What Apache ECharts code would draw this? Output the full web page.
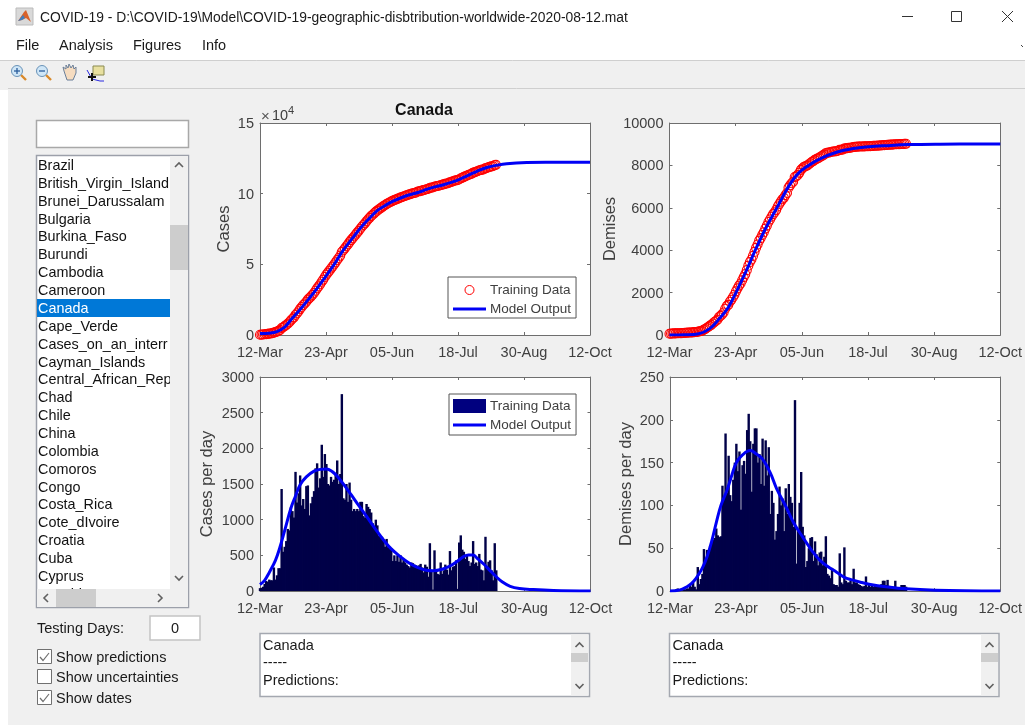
<!DOCTYPE html>
<html><head><meta charset="utf-8">
<style>html,body{margin:0;padding:0;background:#fff;overflow:hidden}#c{width:1025px;height:725px}</style>
<script src="https://cdn.jsdelivr.net/npm/echarts@6/dist/echarts.min.js"></script>
</head><body><div id="c"></div>
<script>
const tickDays=[0,42.8,85.6,128.4,171.2,214];
const tickLabels=['12-Mar','23-Apr','05-Jun','18-Jul','30-Aug','12-Oct'];
const countries=['Brazil','British_Virgin_Island','Brunei_Darussalam','Bulgaria','Burkina_Faso','Burundi','Cambodia','Cameroon','Canada','Cape_Verde','Cases_on_an_interr','Cayman_Islands','Central_African_Rep','Chad','Chile','China','Colombia','Comoros','Congo','Costa_Rica','Cote_dIvoire','Croatia','Cuba','Cyprus','Czechia'];
const cumCases=[
200,300,400,500,650,800,950,1100,1300,1700,
2000,2400,2900,3500,4900,5500,6300,7100,8000,9000,
10300,11500,12500,14200,15400,16800,18500,19800,21200,22300,
23500,25000,26100,27200,28400,29700,31300,33000,34400,35900,
37700,39200,41000,42700,44100,45500,47000,48400,49900,51400,
53100,54500,56100,58700,60000,61300,62800,64100,65700,67100,
68400,69700,71000,72400,73700,75200,76600,77800,79000,80400,
81700,82900,84100,85100,86100,87100,88000,88800,89600,90300,
91200,91800,92600,93200,93800,94400,94900,95400,95800,96300,
96700,97200,97600,98000,98400,98800,99200,99500,99900,100300,
100500,100700,101400,101700,101800,102200,102500,102800,103100,103400,
104000,104300,104350,104900,105200,105400,105600,106000,106300,106600,
106900,107200,107400,108000,108300,108700,109100,109500,109550,110000,
110700,111200,111700,112200,112700,113200,113600,114000,114700,115100,
115500,115850,116400,116700,117000,117150,117900,118200,118600,119000,
119300,119450,120100,120400];
const cumDeaths=[
60,65,70,75,75,80,85,85,90,95,
100,105,110,115,120,125,135,140,140,170,
180,195,245,280,330,375,430,480,545,610,
660,720,840,900,970,1060,1240,1360,1420,1570,
1660,1780,1900,2060,2200,2330,2430,2580,2730,2870,
3060,3270,3440,3560,3730,3920,4110,4270,4450,4570,
4720,4850,5020,5160,5330,5450,5580,5700,5790,5900,
6060,6180,6290,6400,6470,6600,6700,6950,7060,7160,
7230,7450,7480,7550,7650,7790,7860,7930,7960,7990,
8040,8100,8160,8200,8260,8300,8330,8375,8420,8460,
8510,8570,8590,8605,8620,8645,8655,8660,8670,8690,
8730,8740,8745,8795,8805,8815,8825,8835,8845,8870,
8875,8880,8885,8890,8892,8895,8898,8900,8903,8906,
8910,8915,8920,8925,8930,8935,8940,8945,8950,8955,
8960,8970,8975,8978,8982,8985,8995,8998,9000,9003,
9006,9010,9014,9018];
const dailyCases=[
40,45,60,100,140,130,160,150,150,330,
160,220,320,320,1430,550,620,700,870,850,
1170,1120,1030,1670,1240,1370,1620,1200,1290,1150,
1470,1480,1060,1230,1320,1400,1720,1790,1450,1580,
2050,1600,1920,1780,1500,1480,1600,1530,1560,1630,
1830,1500,1640,2760,1300,1280,1500,1250,1520,1280,
1120,1150,1120,1150,1120,1250,1250,1050,1030,1220,
1180,1150,1100,950,900,1000,920,770,760,760,
720,620,730,610,620,600,420,500,420,500,
410,500,400,450,400,370,350,330,400,390,
370,360,340,360,380,330,260,370,340,200,
670,280,20,570,290,240,230,400,240,290,
370,300,230,560,290,340,350,430,30,680,
780,580,550,450,500,420,350,400,700,380,
400,350,520,300,290,150,760,320,410,430,
290,150,670,290];
const dailyDeaths=[
0,0,1,0,2,3,1,1,1,2,
2,3,3,8,5,10,5,2,28,8,
14,20,49,35,48,43,53,55,60,62,
73,65,63,64,123,110,184,115,158,112,
105,130,150,172,140,163,95,147,152,137,
188,207,175,116,172,190,190,150,160,125,
178,123,176,135,168,90,117,103,60,70,
90,122,100,108,70,120,90,125,110,103,
75,223,32,70,103,139,75,65,28,35,
50,62,63,35,58,43,30,45,46,30,
40,64,20,18,15,27,8,7,7,5,
44,10,8,51,12,10,10,12,8,26,
10,10,8,7,6,5,6,17,5,8,
5,6,5,6,5,7,6,8,12,12,
7,13,6,5,4,5,12,4,3,3,
7,7,7,5];
const modelCumCases=[[0,1000],[6,1300],[11,2400],[16,5600],[20,10600],[26,18000],[32,26000],[37,33000],[42,40500],[48,49800],[54,60000],[60,68500],[65,75500],[70,81500],[76,88000],[81,91500],[86,94500],[92,97300],[97,99200],[103,101000],[108,103000],[114,105000],[119,106300],[124,108000],[129,110000],[135,113000],[141,116000],[147,118500],[153,120000],[160,121200],[173,122000],[190,122200],[214,122300]];
const modelCumDeaths=[[0,0],[10,10],[19,60],[26,300],[32,750],[38,1300],[43,2000],[49.5,3000],[55.5,4000],[62,5000],[69.5,6000],[77,7000],[83,7600],[90,8000],[97,8300],[108,8620],[119,8800],[129,8880],[140,8930],[155,8980],[175,9000],[214,9010]];
const modelDailyCases=[[0,90],[3,150],[6,260],[10,430],[13,620],[16,850],[20,1160],[23,1330],[26,1490],[30,1600],[35,1680],[39,1705],[43,1710],[47,1670],[50,1610],[55,1470],[59,1350],[64,1195],[69,1045],[75,860],[80,715],[85,590],[91,480],[96,400],[102,330],[107,295],[112,283],[118,305],[123,350],[128,420],[132,485],[135,505],[138,505],[141,450],[145,375],[149,285],[153,200],[157,125],[162,65],[168,35],[177,20],[190,8],[214,0]];
const modelDailyDeaths=[[0,0],[6,1],[11,5],[14,9],[17,15],[21,27],[24,40],[27,58],[30,80],[33,100],[37,118],[40,135],[43,150],[47,159],[52,164],[56,160],[60,154],[65,138],[69,120],[75,99],[80,80],[86,63],[92,47],[97,36],[102,29],[108,22],[113,16],[118,13],[124,10],[129,8],[140,5],[153,2.5],[172,1],[214,0]];

const GREY='#404040', AX='#6e6e6e', FONT='"Liberation Sans",Arial,sans-serif';
const grids=[
 {left:260,top:123,width:330,height:212},
 {left:669.5,top:123,width:331.5,height:212},
 {left:260,top:377,width:330.5,height:214},
 {left:670,top:377,width:331,height:214}];
const yCfg=[
 {max:150000,interval:50000,name:'Cases',gap:27,fmt:v=>String(v/10000)},
 {max:10000,interval:2000,name:'Demises',gap:50,fmt:v=>String(v)},
 {max:3000,interval:500,name:'Cases per day',gap:44,fmt:v=>String(v)},
 {max:250,interval:50,name:'Demises per day',gap:35,fmt:v=>String(v)}];
const xAxes=[],yAxes=[];
grids.forEach((g,i)=>{
 const lineS={lineStyle:{color:AX,width:1}};
 xAxes.push({type:'value',gridIndex:i,min:0,max:214,position:'bottom',splitLine:{show:false},axisLine:{show:true,onZero:false,...lineS},
  axisTick:{show:true,inside:true,length:3,customValues:tickDays,...lineS},
  axisLabel:{show:true,customValues:tickDays,margin:10,color:GREY,fontFamily:FONT,fontSize:14.5,hideOverlap:false,formatter:v=>tickLabels[tickDays.indexOf(v)]}});
 xAxes.push({type:'value',gridIndex:i,min:0,max:214,position:'top',splitLine:{show:false},axisLine:{show:true,onZero:false,...lineS},
  axisTick:{show:true,inside:true,length:3,customValues:tickDays,...lineS},axisLabel:{show:false}});
 const c=yCfg[i];
 yAxes.push({type:'value',gridIndex:i,min:0,max:c.max,interval:c.interval,position:'left',splitLine:{show:false},axisLine:{show:true,onZero:false,...lineS},
  axisTick:{show:true,inside:true,length:3,...lineS},
  axisLabel:{margin:6,verticalAlign:'top',lineHeight:2,color:GREY,fontFamily:FONT,fontSize:14.5,formatter:c.fmt},
  name:c.name,nameLocation:'middle',nameGap:c.gap,nameTextStyle:{color:GREY,fontFamily:FONT,fontSize:16.5}});
 yAxes.push({type:'value',gridIndex:i,min:0,max:c.max,interval:c.interval,position:'right',splitLine:{show:false},axisLine:{show:true,onZero:false,...lineS},
  axisTick:{show:true,inside:true,length:3,...lineS},axisLabel:{show:false}});
});
const toXY=a=>a.map((v,i)=>[i,v]);
const scatterS=(i,d)=>({name:'Training Data',type:'scatter',xAxisIndex:i*2,yAxisIndex:i*2,data:toXY(d),symbol:'circle',symbolSize:9,z:3,
 itemStyle:{color:'rgba(0,0,0,0)',borderColor:'#ff0000',borderWidth:1.1,opacity:1}});
const barS=(i,d)=>({name:'Training Data',type:'bar',xAxisIndex:i*2,yAxisIndex:i*2,data:toXY(d),barWidth:2.4,z:3,
 itemStyle:{color:'#000048'}});
const lineS=(i,d)=>({name:'Model Output',type:'line',xAxisIndex:i*2,yAxisIndex:i*2,data:d,symbol:'none',smooth:0.4,z:5,
 lineStyle:{color:'#0000f5',width:3},itemStyle:{color:'#0000f5'}});
const series=[
 scatterS(0,cumCases),lineS(0,modelCumCases),
 scatterS(1,cumDeaths),lineS(1,modelCumDeaths),
 barS(2,dailyCases),lineS(2,modelDailyCases),
 barS(3,dailyDeaths),lineS(3,modelDailyDeaths)];
const blueFill={color:'#0000f5',borderWidth:0};
const legends=[
 {left:448,top:277,itemHeight:9,itemGap:5,padding:[6,5,2,5],data:[
   {name:'Training Data',icon:'circle',itemStyle:{color:'rgba(0,0,0,0)',borderColor:'#ff0000',borderWidth:1}},
   {name:'Model Output',icon:'path://M0 0H33V0ZM0 3H33V6H0ZM0 9H33V9Z',itemStyle:blueFill}]},
 {left:449,top:394,itemHeight:14,itemGap:5,padding:[5,5,3,4],data:[
   {name:'Training Data',icon:'rect',itemStyle:{color:'#00007f',borderWidth:0}},
   {name:'Model Output',icon:'path://M0 0H33V0ZM0 5.5H33V8.5H0ZM0 14H33V14Z',itemStyle:blueFill}]}
].map(l=>({...l,orient:'vertical',itemWidth:33,selectedMode:false,backgroundColor:'#fff',borderColor:'#555',borderWidth:1,borderRadius:0,z:10,
 textStyle:{color:GREY,fontFamily:FONT,fontSize:13.5,padding:[0,0,0,-1]}}));

// window chrome
const E=[];
const rect=(x,y,w,h,fill,stroke,lw)=>E.push({type:'rect',shape:{x,y,width:w,height:h},silent:true,style:{fill:fill||'none',stroke:stroke||'none',lineWidth:lw||1}});
const txt=(t,x,y,o={})=>E.push({type:'text',x,y:y+1,silent:true,style:{text:t,fill:o.fill||'#1a1a1a',font:(o.bold?'bold ':'')+(o.size||14.5)+'px '+FONT,textAlign:o.align||'left',textVerticalAlign:'middle',textBaseline:'middle'}});
const poly=(pts,stroke,lw)=>E.push({type:'polyline',shape:{points:pts},silent:true,style:{fill:'none',stroke:stroke,lineWidth:lw||1}});
const fillp=(pts,fill)=>E.push({type:'polygon',shape:{points:pts},silent:true,style:{fill:fill}});
const circ=(cx,cy,r,fill,stroke,lw)=>E.push({type:'circle',shape:{cx,cy,r},silent:true,style:{fill:fill,stroke:stroke,lineWidth:lw||1}});
rect(8,90,1017,635,'#f0f0f0');
rect(0,60,1025,30,'#f0f0f0');
rect(0,90,8,635,'#ffffff');
grids.forEach(g=>rect(g.left,g.top,g.width,g.height,'#ffffff'));
poly([[0,60.5],[1025,60.5]],'#cfcfcf');
poly([[8,88.5],[1025,88.5]],'#cfcfcf');
// title bar
rect(16,8,17,17,'#d9d9d9','#bbbbbb');
fillp([[18,21],[24,12],[26,10],[31,22],[26,18],[22,20]],'#d9622b');
fillp([[18,21],[23,15],[25,18],[22,20]],'#3f7fbf');
txt('COVID-19 - D:\\COVID-19\\Model\\COVID-19-geographic-disbtribution-worldwide-2020-08-12.mat',40,17,{size:13.85});
poly([[902,16.5],[913,16.5]],'#333');
rect(951.5,11.5,10,10,'none','#333');
poly([[1002,11],[1013,22]],'#333');poly([[1013,11],[1002,22]],'#333');
txt('File',16,45);txt('Analysis',59,45);txt('Figures',133,45);txt('Info',202,45);
poly([[1021,45],[1023,47]],'#444',1);
// toolbar
const mag=(cx,cy,sign)=>{poly([[cx+4,cy+4],[cx+9,cy+9]],'#d98a2b',2.4);circ(cx,cy,5.5,'#cfe6f7','#6a93b8',1);poly([[cx-3,cy],[cx+3,cy]],'#2a5d9c',1.3);if(sign)poly([[cx,cy-3],[cx,cy+3]],'#2a5d9c',1.3);};
mag(17,71,true);mag(42,71,false);
fillp([[64,71],[63,67],[66,69],[66,65],[68,68],[69,64],[71,68],[73,65],[74,69],[76,67],[76,73],[73,80],[67,80]],'#f6dcc0');
poly([[64,71],[63,67],[66,69],[66,65],[68,68],[69,64],[71,68],[73,65],[74,69],[76,67],[76,73],[73,80],[67,80],[64,71]],'#6a7f99',1);
rect(93,66,11,9,'#e8e0a0','#8a8a50');
poly([[87,70],[92,79],[100,81],[104,81]],'#2a2ae0',1);
poly([[88,77],[96,77]],'#111',2);poly([[92,73],[92,81]],'#111',2);
// list controls
rect(36.5,120.5,152,27,'#fff','#a8a8a8',1.5);
rect(36.5,155.5,152,452,'#fff','#9ca0aa',1.5);
rect(37,299,133,18,'#0078d7');
countries.forEach((c,i)=>txt(c,38,165+i*17.87,{fill:c==='Canada'?'#fff':'#111',size:14.4}));
rect(170,156,18,433,'#f0f0f0');
rect(170,225,18,45,'#cdcdcd');
rect(37,589,151,18,'#f0f0f0');
rect(56,589,40,18,'#cdcdcd');
const chev=(x,y,dir)=>{const d=4;
 if(dir==='u')poly([[x-d,y+2],[x,y-2],[x+d,y+2]],'#606060',1.6);
 if(dir==='d')poly([[x-d,y-2],[x,y+2],[x+d,y-2]],'#606060',1.6);
 if(dir==='l')poly([[x+2,y-d],[x-2,y],[x+2,y+d]],'#606060',1.6);
 if(dir==='r')poly([[x-2,y-d],[x+2,y],[x-2,y+d]],'#606060',1.6);};
chev(179,165,'u');chev(179,578,'d');chev(46,598,'l');chev(160,598,'r');
txt('Testing Days:',37,628);
rect(150,616,50,24,'#fff','#c4c4c4',1.5);
txt('0',175,628,{align:'center'});
[['Show predictions',657,true],['Show uncertainties',677,false],['Show dates',698,true]].forEach(([t,y,on])=>{
 rect(37.5,y-7.5,14,14,'#fff','#707070',1);
 if(on)poly([[40,y],[43,y+3.5],[49,y-4]],'#707070',1.2);
 txt(t,56,y);});
// output boxes
[[260,571],[669.5,981]].forEach(([x,sx])=>{
 rect(x,633.5,329.5,63,'#fff','#a4a8b0',1.5);
 txt('Canada',x+3,645);txt('-----',x+3,662);txt('Predictions:',x+3,680);
 rect(sx,634.5,17,61,'#f0f0f0');
 rect(sx,653,17,9,'#cdcdcd');
 chev(sx+8.5,645,'u');chev(sx+8.5,686,'d');
});
// axes decoration
txt('Canada',424,110,{bold:true,size:16,align:'center',fill:'#111'});
txt('×',261,116,{size:15,fill:'#555'});
txt('10',272,115,{size:14.5,fill:GREY});
txt('4',288,110,{size:11,fill:GREY});

const chart=echarts.init(document.getElementById('c'),null,{renderer:'canvas',width:1025,height:725});
chart.setOption({animation:false,backgroundColor:'#fff',textStyle:{fontFamily:FONT},
 grid:grids.map(g=>({...g,containLabel:false})),
 xAxis:xAxes,yAxis:yAxes,series,legend:legends,
 graphic:{elements:E}});
</script></body></html>
